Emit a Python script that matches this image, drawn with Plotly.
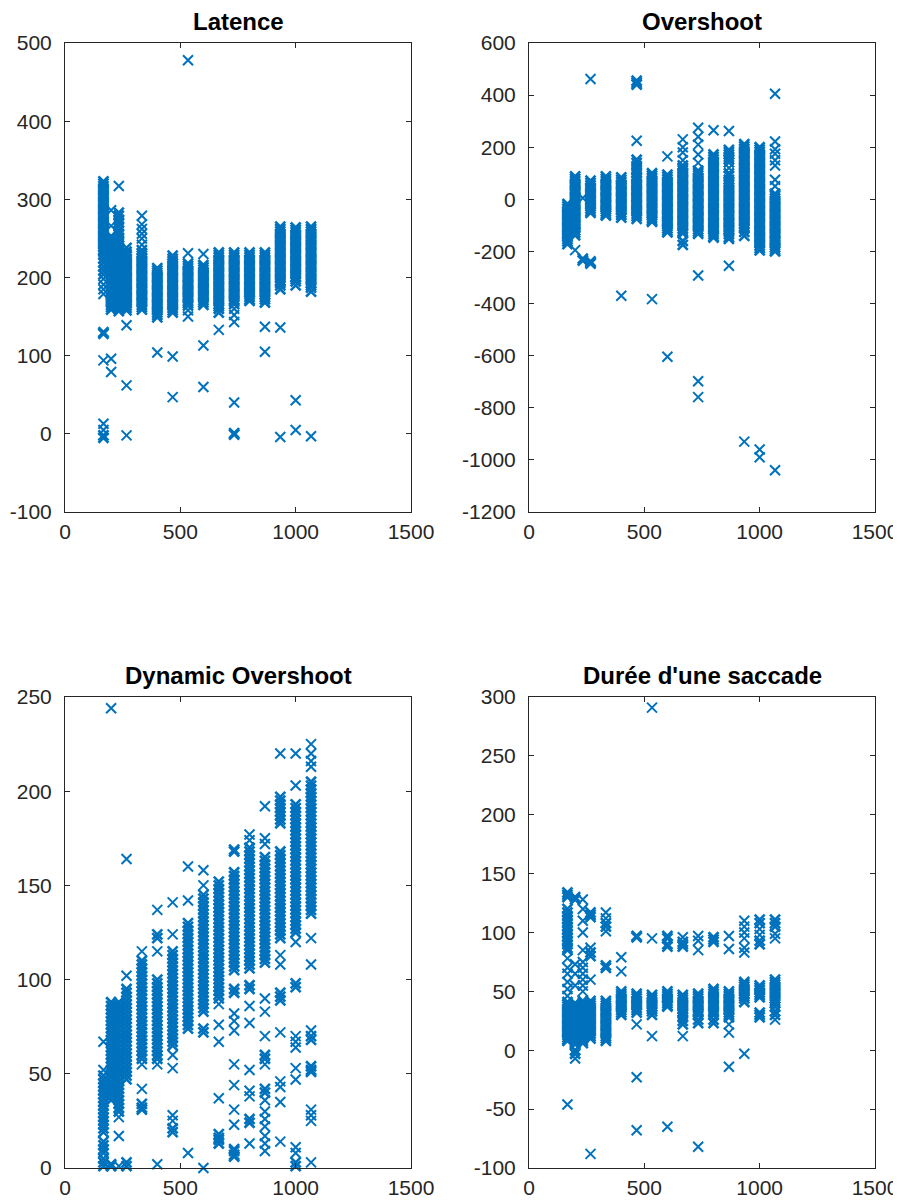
import plotly.graph_objects as go

X_POS = [166.7, 200, 233.3, 266.7, 333.3, 400, 466.7, 533.3, 600, 666.7, 733.3, 800, 866.7, 933.3, 1000, 1066.7]

LATENCE = [
    [323, 320, 317, 314, 311, 308, 305, 302, 299, 296, 293, 290, 287, 284, 281, 278, 275, 272, 269, 266, 263, 260, 257, 254, 251, 248, 245, 242, 239, 236, 233, 229, 224, 219, 214, 209, 204, 198, 191, 185, 179, 130, 128, 94, 13, 5, -2, -5],
    [286, 266, 253, 249, 246, 243, 240, 237, 234, 231, 228, 225, 222, 219, 216, 213, 210, 207, 204, 201, 198, 195, 192, 189, 186, 183, 180, 177, 174, 171, 168, 165, 162, 159, 96, 79],
    [317, 283, 279, 274, 270, 265, 260, 256, 251, 247, 244, 241, 238, 235, 232, 229, 226, 223, 220, 217, 214, 211, 208, 205, 202, 199, 196, 193, 190, 187, 184, 181, 178, 175, 172, 169, 166, 163, 160, 157],
    [238, 233, 230, 227, 224, 221, 218, 215, 212, 209, 206, 203, 200, 197, 194, 191, 188, 185, 182, 179, 176, 173, 170, 167, 164, 161, 158, 139, 62, -2],
    [279, 268, 262, 256, 250, 242, 235, 231, 228, 225, 222, 219, 216, 213, 210, 207, 204, 201, 198, 195, 192, 189, 186, 183, 180, 177, 174, 171, 168, 165, 162, 159],
    [212, 209, 206, 203, 200, 197, 194, 191, 188, 185, 182, 179, 176, 173, 170, 167, 164, 161, 158, 155, 152, 149, 104],
    [228, 224, 221, 218, 215, 212, 209, 206, 203, 200, 197, 194, 191, 188, 185, 182, 179, 176, 173, 170, 167, 164, 161, 158, 155, 99, 47],
    [478, 231, 218, 215, 212, 209, 206, 203, 200, 197, 194, 191, 188, 185, 182, 179, 176, 173, 170, 167, 164, 158, 150],
    [230, 216, 213, 210, 207, 204, 201, 198, 195, 192, 189, 186, 183, 180, 177, 174, 171, 168, 165, 113, 60],
    [232, 229, 226, 223, 220, 217, 214, 211, 208, 205, 202, 199, 196, 193, 190, 187, 184, 181, 178, 175, 172, 169, 166, 163, 160, 155, 133],
    [232, 229, 226, 223, 220, 217, 214, 211, 208, 205, 202, 199, 196, 193, 190, 187, 184, 181, 178, 175, 172, 169, 166, 160, 152, 143, 40, 1, -1],
    [232, 229, 226, 223, 220, 217, 214, 211, 208, 205, 202, 199, 196, 193, 190, 187, 184, 181, 178, 175, 172, 170],
    [232, 229, 226, 223, 220, 217, 214, 211, 208, 205, 202, 199, 196, 193, 190, 187, 184, 181, 178, 175, 172, 168, 137, 105],
    [265, 262, 259, 256, 253, 250, 247, 244, 241, 238, 235, 232, 229, 226, 223, 220, 217, 214, 211, 208, 205, 202, 199, 196, 193, 190, 185, 136, -4],
    [264, 261, 258, 255, 252, 249, 246, 243, 240, 237, 234, 231, 228, 225, 222, 219, 216, 213, 210, 207, 204, 201, 198, 195, 190, 43, 5],
    [265, 262, 259, 256, 253, 250, 247, 244, 241, 238, 235, 232, 229, 226, 223, 220, 217, 214, 211, 208, 205, 202, 199, 196, 193, 190, 187, 182, -3],
]

OVERSHOOT = [
    [-18, -27, -36, -45, -54, -63, -72, -81, -90, -99, -108, -117, -126, -135, -144, -153, -162, -172],
    [88, 79, 70, 61, 52, 43, 34, 25, 16, 7, -2, -11, -20, -29, -38, -47, -56, -65, -74, -83, -92, -101, -110, -119, -128, -138, -195],
    [5, -228, -235],
    [72, 63, 54, 45, 36, 27, 18, 9, 0, -9, -18, -27, -36, -45, -52, 462, -238, -243, -247],
    [88, 79, 70, 61, 52, 43, 34, 25, 16, 7, -2, -11, -20, -29, -38, -47, -56, -62],
    [84, 75, 66, 57, 48, 39, 30, 21, 12, 3, -6, -15, -24, -33, -42, -51, -60, -70, -370],
    [455, 447, 440, 225, 152, 140, 128, 115, 102, 88, 79, 70, 61, 52, 43, 34, 25, 16, 7, -2, -11, -20, -29, -38, -47, -56, -65, -75],
    [100, 91, 82, 73, 64, 55, 46, 37, 28, 19, 10, 1, -8, -17, -26, -35, -44, -53, -62, -71, -80, -86, -383],
    [165, 95, 86, 77, 68, 59, 50, 41, 32, 23, 14, 5, -4, -13, -22, -31, -40, -49, -58, -67, -76, -85, -94, -103, -112, -120, -127, -604],
    [230, 200, 180, 150, 130, 121, 112, 103, 94, 85, 76, 67, 58, 49, 40, 31, 22, 13, 4, -5, -14, -23, -32, -41, -50, -59, -68, -77, -86, -95, -104, -113, -122, -130, -160, -175],
    [275, 240, 210, 172, 140, 110, 101, 92, 83, 74, 65, 56, 47, 38, 29, 20, 11, 2, -7, -16, -25, -34, -43, -52, -61, -70, -79, -88, -97, -106, -115, -124, -132, -292, -698, -759],
    [265, 172, 163, 154, 145, 136, 127, 118, 109, 100, 91, 82, 73, 64, 55, 46, 37, 28, 19, 10, 1, -8, -17, -26, -35, -44, -53, -62, -71, -80, -89, -98, -107, -116, -125, -134, -142, -147],
    [262, 190, 181, 172, 163, 154, 142, 120, 100, 90, 75, 64, 55, 46, 37, 28, 19, 10, 1, -8, -17, -26, -35, -44, -53, -62, -71, -80, -89, -98, -107, -116, -125, -134, -145, -152, -255],
    [212, 203, 194, 185, 176, 167, 158, 149, 140, 131, 122, 113, 104, 95, 86, 77, 68, 59, 50, 41, 32, 23, 14, 5, -4, -13, -22, -31, -40, -49, -58, -67, -76, -85, -94, -103, -112, -125, -140, -930],
    [200, 191, 182, 173, 164, 155, 146, 137, 128, 119, 110, 101, 92, 83, 74, 65, 56, 47, 38, 29, 20, 11, 2, -7, -16, -25, -34, -43, -52, -61, -70, -79, -88, -97, -106, -115, -124, -133, -142, -151, -160, -169, -178, -187, -196, -960, -990],
    [405, 222, 192, 175, 150, 130, 75, 50, 22, 13, 4, -5, -14, -23, -32, -41, -50, -59, -68, -77, -86, -95, -104, -113, -122, -131, -140, -149, -158, -167, -176, -185, -194, -200, -1040],
]

DYNAMIC = [
    [67, 52, 49, 47, 45, 43, 41, 39, 37, 35, 33, 31, 29, 27, 25, 23, 21, 19, 14, 12, 10, 8, 5, 3, 1],
    [244, 88, 86, 84, 82, 80, 78, 76, 74, 72, 70, 68, 66, 64, 62, 60, 58, 56, 54, 52, 50, 48, 46, 44, 42, 40, 38, 36, 2, 1],
    [88, 86, 84, 82, 80, 78, 76, 74, 72, 70, 68, 66, 64, 62, 60, 58, 56, 54, 52, 50, 48, 46, 44, 42, 40, 38, 36, 34, 32, 30, 27, 17, 1],
    [164, 102, 95, 93, 91, 89, 87, 85, 83, 81, 79, 77, 75, 73, 71, 69, 67, 65, 63, 61, 59, 57, 55, 53, 51, 49, 47, 3, 1],
    [115, 110, 108, 106, 104, 102, 100, 98, 96, 94, 92, 90, 88, 86, 84, 82, 80, 78, 76, 74, 72, 70, 68, 66, 64, 62, 60, 58, 55, 42, 34, 32, 31],
    [137, 124, 122, 115, 100, 98, 96, 94, 92, 90, 88, 86, 84, 82, 80, 78, 76, 74, 72, 70, 68, 66, 64, 62, 60, 58, 55, 2],
    [141, 124, 115, 113, 111, 109, 107, 105, 103, 101, 99, 97, 95, 93, 91, 89, 87, 85, 83, 81, 79, 77, 75, 73, 71, 69, 67, 65, 60, 53, 28, 25, 21, 19],
    [160, 142, 130, 128, 126, 124, 122, 120, 118, 116, 114, 112, 110, 108, 106, 104, 102, 100, 98, 96, 94, 92, 90, 88, 86, 84, 82, 80, 78, 76, 74, 8],
    [158, 150, 145, 143, 141, 139, 137, 135, 133, 131, 129, 127, 125, 123, 121, 119, 117, 115, 113, 111, 109, 107, 105, 103, 101, 99, 97, 95, 93, 91, 89, 87, 85, 83, 74, 72, 0],
    [152, 150, 148, 146, 144, 142, 140, 138, 136, 134, 132, 130, 128, 126, 124, 122, 120, 118, 116, 114, 112, 110, 108, 106, 104, 102, 100, 98, 96, 94, 92, 90, 87, 76, 67, 37, 18, 16, 15, 13],
    [169, 168, 157, 155, 153, 151, 149, 147, 145, 143, 141, 139, 137, 135, 133, 131, 129, 127, 125, 123, 121, 119, 117, 115, 113, 111, 109, 107, 105, 95, 93, 82, 78, 73, 55, 44, 31, 23, 10, 9, 7, 6],
    [177, 174, 170, 168, 166, 164, 162, 160, 158, 156, 154, 152, 150, 148, 146, 144, 142, 140, 138, 136, 134, 132, 130, 128, 126, 124, 122, 120, 118, 116, 114, 112, 110, 108, 106, 97, 95, 86, 77, 52, 41, 38, 26, 24, 13],
    [192, 175, 172, 165, 163, 161, 159, 157, 155, 153, 151, 149, 147, 145, 143, 141, 139, 137, 135, 133, 131, 129, 127, 125, 123, 121, 119, 117, 115, 113, 111, 109, 90, 83, 70, 60, 58, 55, 42, 40, 36, 30, 26, 22, 17, 13, 9],
    [220, 197, 195, 193, 191, 189, 187, 185, 183, 168, 166, 164, 162, 160, 158, 156, 154, 152, 150, 148, 146, 144, 142, 140, 138, 136, 134, 132, 130, 128, 126, 124, 122, 113, 108, 93, 91, 89, 72, 46, 43, 35, 14],
    [220, 203, 193, 191, 189, 187, 185, 183, 181, 179, 177, 175, 173, 171, 169, 167, 165, 163, 161, 159, 157, 155, 153, 151, 149, 147, 145, 143, 141, 139, 137, 135, 133, 131, 129, 127, 125, 120, 98, 96, 70, 67, 64, 53, 47, 11, 8, 3, 1],
    [225, 220, 216, 213, 205, 203, 201, 199, 197, 195, 193, 191, 189, 187, 185, 183, 181, 179, 177, 175, 173, 171, 169, 167, 165, 163, 161, 159, 157, 155, 153, 151, 149, 147, 145, 143, 141, 139, 137, 135, 122, 108, 73, 70, 68, 54, 52, 51, 31, 28, 25, 3],
]

DUREE = [
    [134, 132, 130, 120, 117, 114, 111, 108, 105, 102, 99, 96, 93, 90, 87, 85, 78, 70, 65, 58, 52, 46, 41, 39, 37, 35, 33, 31, 29, 27, 25, 23, 21, 19, 17, 15, 13, 11, 9, 8, -46],
    [130, 128, 73, 65, 55, 40, 38, 36, 34, 32, 30, 28, 26, 24, 22, 20, 18, 16, 14, 12, 10, 8, 6, 5, 0, -3, -7],
    [128, 120, 110, 100, 85, 75, 70, 65, 60, 55, 50, 42, 40, 38, 36, 34, 32, 30, 28, 26, 24, 22, 20, 18, 16, 14, 12, 10, 8, 6],
    [117, 115, 113, 87, 83, 80, 60, 42, 40, 38, 36, 34, 32, 30, 28, 26, 24, 22, 20, 18, 16, 14, 12, 10, -88],
    [117, 112, 108, 105, 101, 72, 70, 42, 40, 38, 36, 34, 32, 30, 28, 26, 24, 22, 20, 18, 16, 14, 12, 10, 8],
    [79, 67, 50, 48, 46, 44, 42, 40, 38, 36, 34, 32, 30],
    [97, 96, 48, 46, 44, 42, 40, 38, 36, 34, 32, 22, -23, -68],
    [291, 95, 47, 45, 43, 41, 39, 37, 35, 33, 30, 12],
    [97, 95, 90, 88, 50, 48, 46, 44, 42, 40, 38, 37, -65],
    [96, 92, 90, 88, 47, 45, 43, 41, 39, 37, 35, 33, 31, 28, 25, 22, 12],
    [97, 93, 85, 48, 46, 44, 42, 40, 38, 36, 34, 32, 30, 26, 23, -82],
    [96, 94, 92, 52, 50, 48, 46, 44, 42, 40, 38, 36, 34, 32, 30, 26, 23],
    [97, 86, 50, 48, 46, 44, 42, 40, 38, 36, 34, 32, 30, 28, 22, 15, -14],
    [110, 105, 100, 95, 87, 83, 58, 56, 54, 52, 50, 48, 46, 44, 41, -3],
    [111, 108, 103, 98, 93, 90, 55, 53, 51, 49, 47, 45, 32, 30, 28],
    [111, 108, 105, 99, 95, 60, 58, 56, 54, 52, 50, 48, 46, 44, 42, 40, 37, 33, 30, 26],
]

TITLES = ["Latence", "Overshoot", "Dynamic Overshoot", "Durée d'une saccade"]
Y_TICKS = [
    [-100, 0, 100, 200, 300, 400, 500],
    [-1200, -1000, -800, -600, -400, -200, 0, 200, 400, 600],
    [0, 50, 100, 150, 200, 250],
    [-100, -50, 0, 50, 100, 150, 200, 250, 300],
]
X_TICKS = [0, 500, 1000, 1500]

# the page body adds an 8 px margin, so the figure is drawn 8 px smaller
OFF = 8
W, H = 901 - OFF, 1202 - OFF
BLUE = "#0072BD"
AX = "#262626"
FONT = "Liberation Sans, Arial, sans-serif"

# plot-area boxes in page pixels (left, right, top, bottom)
BOXES = [(65, 411, 43, 512), (529, 875, 43, 512), (65, 411, 697, 1168), (529, 875, 697, 1168)]

fig = go.Figure()
datasets = [LATENCE, OVERSHOOT, DYNAMIC, DUREE]
for i, data in enumerate(datasets):
    l, r, t, b = BOXES[i]
    yt = Y_TICKS[i]
    px_per_unit = (b - t) / (yt[-1] - yt[0])
    xs, ys, widths = [], [], []
    for xv, col in zip(X_POS, data):
        for k, v in enumerate(col):
            # marks packed closely together (dense bands) are drawn a bit heavier so they merge
            gaps = [abs(v - w) * px_per_unit for j, w in enumerate(col) if j != k]
            dense = min(gaps) < 4.2 if gaps else False
            xs.append(xv)
            ys.append(v)
            widths.append(2.6 if dense else 2.0)
    n = "" if i == 0 else str(i + 1)
    fig.add_trace(go.Scatter(
        x=xs, y=ys, mode="markers", xaxis="x" + n, yaxis="y" + n, cliponaxis=False,
        marker=dict(symbol="x-thin", size=10, color=BLUE, line=dict(color=BLUE, width=widths)),
        showlegend=False, hoverinfo="skip"))

annotations = []
for i, (l, r, t, b) in enumerate(BOXES):
    n = "" if i == 0 else str(i + 1)
    xd = [(l - OFF) / W, (r - OFF) / W]
    yd = [1 - (b - OFF) / H, 1 - (t - OFF) / H]
    yt = Y_TICKS[i]
    fig.update_layout(**{
        "xaxis" + n: dict(domain=xd, range=[0, 1500], tickvals=X_TICKS, ticktext=[str(v) for v in X_TICKS],
                          anchor="y" + n, ticks="inside", ticklen=5, tickwidth=1, tickcolor=AX,
                          showline=True, linecolor=AX, linewidth=1, mirror="ticks",
                          showgrid=False, zeroline=False, ticklabelstandoff=1, automargin=False,
                          tickfont=dict(family=FONT, size=21, color=AX)),
        "yaxis" + n: dict(domain=yd, range=[yt[0], yt[-1]], tickvals=yt, ticktext=[str(v) for v in yt],
                          anchor="x" + n, ticks="inside", ticklen=5, tickwidth=1, tickcolor=AX,
                          showline=True, linecolor=AX, linewidth=1, mirror="ticks",
                          showgrid=False, zeroline=False, ticklabelstandoff=8, automargin=False,
                          tickfont=dict(family=FONT, size=21, color=AX)),
    })
    annotations.append(dict(text="<b>" + TITLES[i] + "</b>", x=(xd[0] + xd[1]) / 2, y=yd[1],
                            xref="paper", yref="paper", xanchor="center", yanchor="bottom", yshift=6,
                            showarrow=False,
                            font=dict(family=FONT, size=24, color="black")))

fig.update_layout(width=W, height=H, margin=dict(l=0, r=0, t=0, b=0, autoexpand=False),
                  paper_bgcolor="white", plot_bgcolor="white", annotations=annotations)

# keep the page from showing scrollbars (the body margin would otherwise overflow the window)
fig.write_html("out.html",
               post_script="document.documentElement.style.overflow='hidden';"
                           "document.body.style.overflow='hidden';")
